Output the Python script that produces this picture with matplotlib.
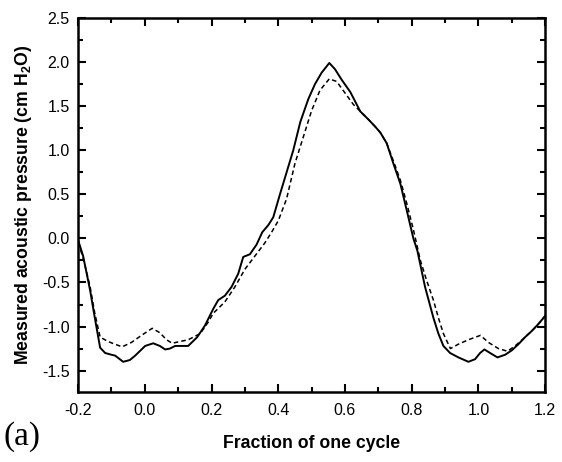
import matplotlib
matplotlib.use('Agg')
import matplotlib.pyplot as plt
from matplotlib.ticker import MultipleLocator, FormatStrFormatter

plt.rcParams['font.family'] = 'Liberation Sans'
plt.rcParams['mathtext.default'] = 'regular'

# Measured signal (solid)
measured_x = [-0.2, -0.185, -0.164, -0.15, -0.134, -0.119, -0.1, -0.089, -0.065, -0.045,
              -0.029, 0.001, 0.025, 0.045, 0.061, 0.075, 0.091, 0.13, 0.157, 0.18,
              0.205, 0.22, 0.24, 0.26, 0.28, 0.295, 0.315, 0.335, 0.352, 0.37,
              0.385, 0.405, 0.425, 0.445, 0.466, 0.49, 0.51, 0.53, 0.553, 0.57,
              0.59, 0.616, 0.646, 0.67, 0.69, 0.706, 0.725, 0.745, 0.766, 0.785,
              0.805, 0.817, 0.84, 0.865, 0.88, 0.895, 0.915, 0.94, 0.97, 0.99,
              1.005, 1.018, 1.035, 1.057, 1.08, 1.1, 1.12, 1.14, 1.16, 1.18, 1.2]
measured_y = [-0.02, -0.2, -0.59, -0.9, -1.24, -1.3, -1.32, -1.33, -1.4, -1.38,
              -1.33, -1.22, -1.19, -1.22, -1.26, -1.25, -1.22, -1.22, -1.12, -0.99,
              -0.8, -0.7, -0.65, -0.55, -0.4, -0.21, -0.18, -0.07, 0.07, 0.15,
              0.24, 0.5, 0.75, 1.0, 1.32, 1.58, 1.75, 1.88, 1.99, 1.92,
              1.8, 1.66, 1.44, 1.35, 1.27, 1.2, 1.08, 0.85, 0.62, 0.32,
              0.0, -0.14, -0.55, -0.9, -1.08, -1.22, -1.3, -1.35, -1.4, -1.37,
              -1.3, -1.26, -1.3, -1.35, -1.32, -1.27, -1.2, -1.12, -1.05, -0.97, -0.88]

# Model signal (dashed)
model_x = [-0.2, -0.185, -0.164, -0.15, -0.134, -0.11, -0.09, -0.068, -0.04, -0.01,
           0.022, 0.045, 0.065, 0.082, 0.105, 0.13, 0.166, 0.19, 0.205, 0.24,
           0.27, 0.3, 0.33, 0.36, 0.38, 0.4, 0.425, 0.45, 0.475, 0.5,
           0.525, 0.553, 0.575, 0.6, 0.625, 0.646, 0.67, 0.69, 0.706, 0.725,
           0.745, 0.766, 0.785, 0.805, 0.826, 0.845, 0.865, 0.88, 0.895, 0.916,
           0.94, 0.97, 1.006, 1.03, 1.06, 1.087, 1.11, 1.14, 1.16, 1.18, 1.2]
model_y = [-0.05, -0.22, -0.55, -0.85, -1.12, -1.17, -1.2, -1.23, -1.18, -1.1,
           -1.02, -1.07, -1.15, -1.19, -1.17, -1.15, -1.08, -0.95, -0.85, -0.72,
           -0.55, -0.35, -0.2, -0.05, 0.07, 0.2, 0.45, 0.85, 1.15, 1.45,
           1.68, 1.81, 1.78, 1.65, 1.52, 1.44, 1.35, 1.27, 1.2, 1.08,
           0.88, 0.66, 0.4, 0.1, -0.25, -0.48, -0.7, -0.9, -1.08, -1.25,
           -1.2, -1.15, -1.1, -1.18, -1.25, -1.28, -1.22, -1.12, -1.05, -0.97, -0.88]

fig = plt.figure(figsize=(5.62, 4.62), dpi=100)
ax = fig.add_axes([0.139, 0.152, 0.831, 0.809])

ax.plot(measured_x, measured_y, color='black', lw=1.4, solid_joinstyle='round')
ax.plot(model_x, model_y, color='black', lw=1.1, linestyle=(0, (3, 2)))

ax.set_xlim(-0.2, 1.2)
ax.set_ylim(-1.74, 2.5)
ax.xaxis.set_major_locator(MultipleLocator(0.2))
ax.xaxis.set_minor_locator(MultipleLocator(0.1))
ax.yaxis.set_major_locator(MultipleLocator(0.5))
ax.yaxis.set_minor_locator(MultipleLocator(0.25))
ax.tick_params(which='both', direction='in', top=True, right=True, labelsize=11.5, width=1.5)
ax.tick_params(which='major', length=6)
ax.tick_params(which='minor', length=3.5)
ax.tick_params(axis='x', pad=8)
ax.tick_params(axis='y', pad=6)
ax.xaxis.set_major_formatter(FormatStrFormatter('%.1f'))
ax.yaxis.set_major_formatter(FormatStrFormatter('%.1f'))
for s in ax.spines.values():
    s.set_linewidth(1.8)

ax.set_xlabel('Fraction of one cycle', fontsize=12.7, fontweight='bold', labelpad=12)
ax.set_ylabel('Measured acoustic pressure (cm H$_2$O)', fontsize=12.7, fontweight='bold', labelpad=6)

fig.text(0.006, 0.038, '(a)', fontsize=24, family='Liberation Serif')

fig.savefig('out.png', dpi=100)
